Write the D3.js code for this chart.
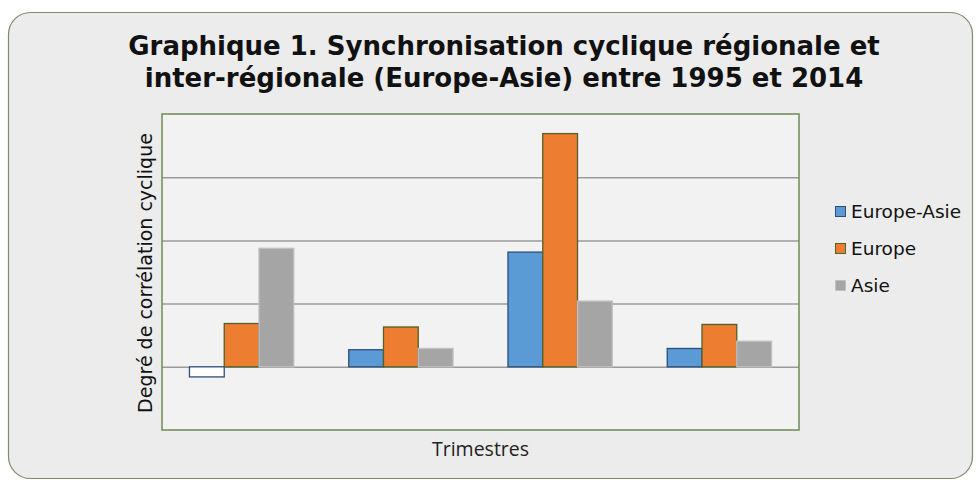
<!DOCTYPE html>
<html>
<head>
<meta charset="utf-8">
<script src="https://cdn.jsdelivr.net/npm/d3@7"></script>
<style>
  body { margin: 0; background: #fff; }
  svg { display: block; }
</style>
</head>
<body>
<svg id="chart"></svg>
<script>
// data (no value labels in the original)
const categories = ["T1", "T2", "T3", "T4"];
const seriesNames = ["Europe-Asie", "Europe", "Asie"];
const europeAsie = [-0.032, 0.054, 0.363, 0.058];
const europe = [0.137, 0.126, 0.738, 0.134];
const asie = [0.375, 0.058, 0.208, 0.081];
const yTicks = [-0.2, 0, 0.2, 0.4, 0.6, 0.8];

const fills = ["#5b9bd5", "#ed7d31", "#a5a5a5"];
const strokes = ["#2e4d7b", "#4f6228", "#c0c0c0"];

const width = 978, height = 480;
const margin = { top: 114, right: 179, bottom: 50, left: 162 };
const w = width - margin.left - margin.right;
const h = height - margin.top - margin.bottom;

const svg = d3.select("#chart").attr("width", width).attr("height", height);

// outer rounded frame
svg.append("rect")
  .attr("x", 8.5).attr("y", 12.5)
  .attr("width", 964).attr("height", 466)
  .attr("rx", 22)
  .attr("fill", "#ececec")
  .attr("stroke", "#7d8c6c")
  .attr("stroke-width", 1.2);

// title
const title = svg.append("text")
  .attr("text-anchor", "middle")
  .attr("font-family", "DejaVu Sans")
  .attr("font-weight", "bold")
  .attr("font-size", 26)
  .attr("fill", "#111");
title.append("tspan").attr("x", 504).attr("y", 55)
  .text("Graphique 1. Synchronisation cyclique régionale et");
title.append("tspan").attr("x", 504).attr("y", 87)
  .text("inter-régionale (Europe-Asie) entre 1995 et 2014");

const g = svg.append("g").attr("transform", `translate(${margin.left},${margin.top})`);

g.append("rect")
  .attr("width", w).attr("height", h)
  .attr("fill", "#f2f2f2");

const x0 = d3.scaleBand().domain(categories).range([0, w]).paddingInner(0.345).paddingOuter(0.1725);
const x1 = d3.scaleBand().domain(seriesNames).range([0, x0.bandwidth()]);
const y = d3.scaleLinear().domain([-0.2, 0.8]).range([h, 0]);

// gridlines
g.append("g")
  .call(d3.axisLeft(y).tickValues(yTicks.slice(1, -1)).tickSize(-w).tickFormat(""))
  .call(s => s.select(".domain").remove())
  .call(s => s.selectAll(".tick line").attr("stroke", "#9a9a9a").attr("stroke-width", 1.5));

const rows = categories.map((c, i) => ({ cat: c, vals: [europeAsie[i], europe[i], asie[i]] }));

const groups = g.selectAll(".grp").data(rows).join("g")
  .attr("class", "grp")
  .attr("transform", d => `translate(${x0(d.cat)},0)`);

groups.selectAll("rect")
  .data(d => d.vals.map((v, k) => ({ v, k })))
  .join("rect")
  .attr("x", d => x1(seriesNames[d.k]))
  .attr("width", x1.bandwidth())
  .attr("y", d => y(Math.max(0, d.v)))
  .attr("height", d => Math.abs(y(d.v) - y(0)))
  .attr("fill", d => d.v < 0 ? "#ffffff" : fills[d.k])
  .attr("stroke", d => strokes[d.k])
  .attr("stroke-width", 1.3);

// plot border
g.append("rect")
  .attr("width", w).attr("height", h)
  .attr("fill", "none")
  .attr("stroke", "#6e8a55")
  .attr("stroke-width", 1.5);

// axis titles
svg.append("text")
  .attr("transform", `translate(152,${margin.top + h / 2 + 1}) rotate(-90)`)
  .attr("text-anchor", "middle")
  .attr("font-family", "DejaVu Sans")
  .attr("font-size", 19)
  .attr("fill", "#111")
  .text("Degré de corrélation cyclique");

svg.append("text")
  .attr("x", margin.left + w / 2).attr("y", 456)
  .attr("text-anchor", "middle")
  .attr("font-family", "Open Sans")
  .attr("font-size", 19.5)
  .attr("fill", "#222")
  .text("Trimestres");

// legend
const legend = svg.append("g").attr("transform", "translate(835,212)");
const li = legend.selectAll("g").data(seriesNames).join("g")
  .attr("transform", (d, i) => `translate(0,${i * 37})`);
li.append("rect")
  .attr("x", 0.5).attr("y", -5.5)
  .attr("width", 10).attr("height", 10)
  .attr("fill", (d, i) => fills[i])
  .attr("stroke", (d, i) => strokes[i]);
li.append("text")
  .attr("x", 16).attr("y", 0)
  .attr("dy", "0.35em")
  .attr("font-family", "DejaVu Sans")
  .attr("font-size", 18.5)
  .attr("fill", "#111")
  .text(d => d);
</script>
</body>
</html>
